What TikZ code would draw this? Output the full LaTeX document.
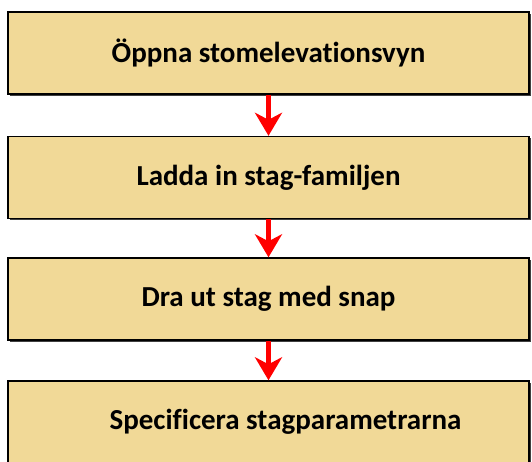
\documentclass[tikz,border=0pt]{standalone}
\usepackage{fontspec}
\setmainfont{Carlito}[Ligatures=NoCommon]
\usetikzlibrary{arrows.meta,shadows}
\definecolor{stepfill}{HTML}{F1D997}
\definecolor{stepred}{HTML}{FF0000}

\begin{document}
\begin{tikzpicture}[x=1pt,y=1pt,
  stepbox/.style={draw=black,line width=1.4pt,fill=stepfill,
    minimum width=521pt,minimum height=82pt,inner sep=0pt,
    font=\bfseries\fontsize{29}{34}\selectfont,
    drop shadow={shadow xshift=1.8pt,shadow yshift=-2pt,fill=black!75,opacity=1}},
  steparrow/.style={draw=stepred,line width=4.5pt,
    -{Stealth[width=27pt,length=23pt,inset=7pt,fill=stepred]}}]

\useasboundingbox (0,0) rectangle (532,462);

% positions
\def\x{268.5}

\node[stepbox] (S1) at (\x,409)   {Öppna stomelevationsvyn};
\node[stepbox] (S2) at (\x,284.5) {Ladda in stag-familjen};
\node[stepbox] (S3) at (\x,163)   {Dra ut stag med snap};
\node[stepbox] (S4) at (\x,40)    {\hspace*{34pt}Specificera stagparametrarna};

% arrows
\foreach \a/\b in {S1/S2,S2/S3,S3/S4}
  \draw[steparrow] (\a.south) -- (\b.north);

\end{tikzpicture}
\end{document}
